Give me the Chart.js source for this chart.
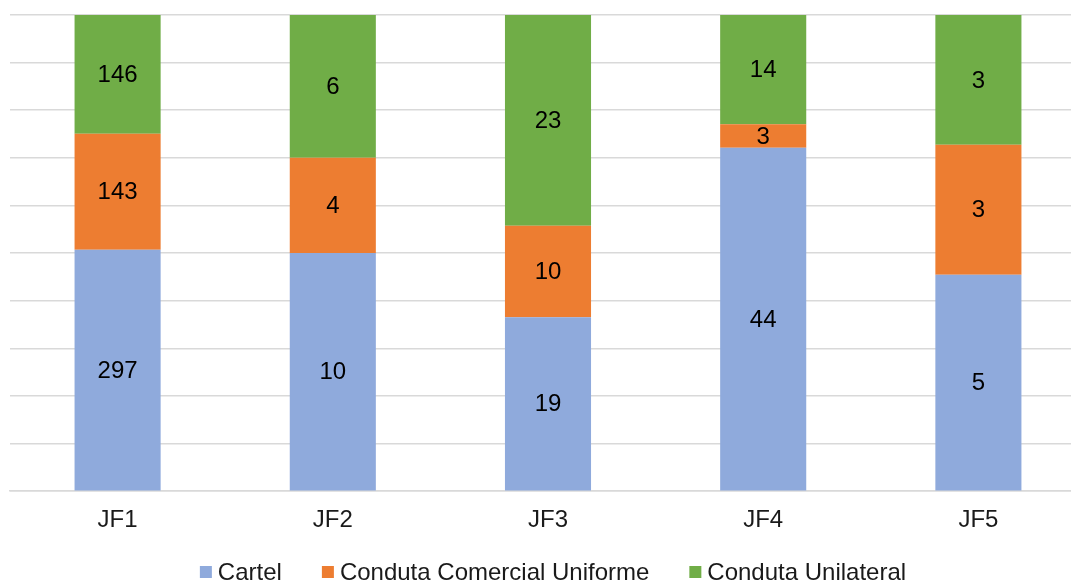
<!DOCTYPE html>
<html>
<head>
<meta charset="utf-8">
<script src="https://cdn.jsdelivr.net/npm/chart.js@4.4.1/dist/chart.umd.min.js"></script>
<style>
  html, body { margin: 0; padding: 0; background: #fff; overflow: hidden; }
  #wrap { width: 1086px; height: 581px; }
</style>
</head>
<body>
<div id="wrap"><canvas id="chart"></canvas></div>
<script>
const categories = ['JF1', 'JF2', 'JF3', 'JF4', 'JF5'];
const cartel = [297, 10, 19, 44, 5];
const comercial = [143, 4, 10, 3, 3];
const unilateral = [146, 6, 23, 14, 3];

const totals = categories.map((c, i) => cartel[i] + comercial[i] + unilateral[i]);
const pct = arr => arr.map((v, i) => v / totals[i] * 100);

const font = "'Liberation Sans', Arial, sans-serif";

// raw counts written in the middle of each segment
const segmentLabels = {
  id: 'segmentLabels',
  afterDatasetsDraw(chart) {
    const ctx = chart.ctx;
    ctx.save();
    ctx.font = '24px ' + font;
    ctx.fillStyle = '#000';
    ctx.textAlign = 'center';
    ctx.textBaseline = 'middle';
    chart.data.datasets.forEach((ds, di) => {
      chart.getDatasetMeta(di).data.forEach((bar, i) => {
        const mid = (bar.y + bar.base) / 2;
        ctx.fillText(ds.raw[i], bar.x, mid + 1);
      });
    });
    ctx.restore();
  }
};

// legend drawn by hand so it can sit close to the bottom edge
const bottomLegend = {
  id: 'bottomLegend',
  afterDraw(chart) {
    const ctx = chart.ctx;
    ctx.save();
    ctx.font = '24px ' + font;
    ctx.textBaseline = 'middle';
    const box = 12, gap = 6, space = 40, y = 572;
    const items = chart.data.datasets.map(ds => ({
      text: ds.label, color: ds.backgroundColor, w: ctx.measureText(ds.label).width
    }));
    const total = items.reduce((s, it) => s + box + gap + it.w, 0) + space * (items.length - 1);
    let x = 553 - total / 2;
    items.forEach(it => {
      ctx.fillStyle = it.color;
      ctx.fillRect(x, y - box / 2, box, box);
      ctx.fillStyle = '#1a1a1a';
      ctx.fillText(it.text, x + box + gap, y + 1);
      x += box + gap + it.w + space;
    });
    ctx.restore();
  }
};

new Chart(document.getElementById('chart').getContext('2d'), {
  type: 'bar',
  data: {
    labels: categories,
    datasets: [
      { label: 'Cartel', data: pct(cartel), raw: cartel, backgroundColor: '#8faadc' },
      { label: 'Conduta Comercial Uniforme', data: pct(comercial), raw: comercial, backgroundColor: '#ed7d31' },
      { label: 'Conduta Unilateral', data: pct(unilateral), raw: unilateral, backgroundColor: '#70ad47' }
    ]
  },
  options: {
    responsive: true,
    maintainAspectRatio: false,
    animation: false,
    layout: { padding: { left: 10, right: 0, top: 15, bottom: 31 } },
    datasets: { bar: { categoryPercentage: 1, barPercentage: 0.4 } },
    scales: {
      x: {
        stacked: true,
        grid: { display: false, drawTicks: false },
        border: { display: true, color: '#d9d9d9', width: 1.5 },
        ticks: { color: '#1a1a1a', font: { family: font, size: 24 }, padding: 15 }
      },
      y: {
        stacked: true,
        min: 0,
        max: 100,
        ticks: { display: false, stepSize: 10 },
        grid: { color: '#d9d9d9', lineWidth: 1.5, drawTicks: false },
        border: { display: false },
        afterFit(scale) { scale.width = 0; }
      }
    },
    plugins: {
      legend: { display: false },
      tooltip: { enabled: false }
    }
  },
  plugins: [segmentLabels, bottomLegend]
});
</script>
</body>
</html>
